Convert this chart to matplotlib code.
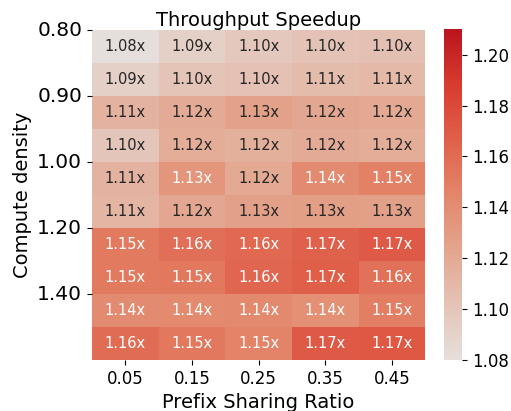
import matplotlib
matplotlib.use("Agg")
import matplotlib.pyplot as plt
import numpy as np
import seaborn as sns
from matplotlib.colors import LinearSegmentedColormap

# prefix sharing ratios (columns) and compute density ticks (rows)
sharing_ratio = ["0.05", "0.15", "0.25", "0.35", "0.45"]
density_ticks = ["0.80", "0.90", "1.00", "1.20", "1.40"]

# throughput speedup, one row per density step
speedup = np.array([
    [1.081, 1.092, 1.098, 1.102, 1.104],
    [1.092, 1.101, 1.103, 1.107, 1.109],
    [1.114, 1.120, 1.126, 1.122, 1.121],
    [1.100, 1.118, 1.116, 1.119, 1.118],
    [1.114, 1.134, 1.121, 1.141, 1.148],
    [1.112, 1.122, 1.127, 1.128, 1.127],
    [1.152, 1.158, 1.162, 1.166, 1.170],
    [1.152, 1.153, 1.163, 1.167, 1.157],
    [1.141, 1.142, 1.143, 1.138, 1.150],
    [1.160, 1.153, 1.147, 1.170, 1.171],
])

labels = np.array([[f"{v:.2f}x" for v in row] for row in speedup])

cmap = LinearSegmentedColormap.from_list(
    "speed", ["#e6dfdb", "#e4c3b6", "#e3a58e", "#e3866a", "#e0604a", "#d83b30", "#ba151d"])

fig = plt.figure(figsize=(5.11, 4.11), dpi=100)
ax = fig.add_axes([0.180, 0.124, 0.652, 0.803])
cax = fig.add_axes([0.869, 0.124, 0.036, 0.805])

sns.heatmap(speedup, ax=ax, cbar_ax=cax, cmap=cmap, vmin=1.08, vmax=1.21,
            annot=labels, fmt="", annot_kws={"size": 10.5})

ax.set_xticks(np.arange(len(sharing_ratio)) + 0.5)
ax.set_xticklabels(sharing_ratio, fontsize=12, rotation=0)
ax.set_yticks(np.arange(0, 10, 2))
ax.set_yticklabels(density_ticks, fontsize=14.5, rotation=0)

ax.set_xlabel("Prefix Sharing Ratio", fontsize=14)
ax.set_ylabel("Compute density", fontsize=14)
ax.set_title("Throughput Speedup", fontsize=14, pad=3)

cax.tick_params(labelsize=12)
cax.set_yticks([1.08, 1.10, 1.12, 1.14, 1.16, 1.18, 1.20])

fig.savefig("out.png", dpi=100)
